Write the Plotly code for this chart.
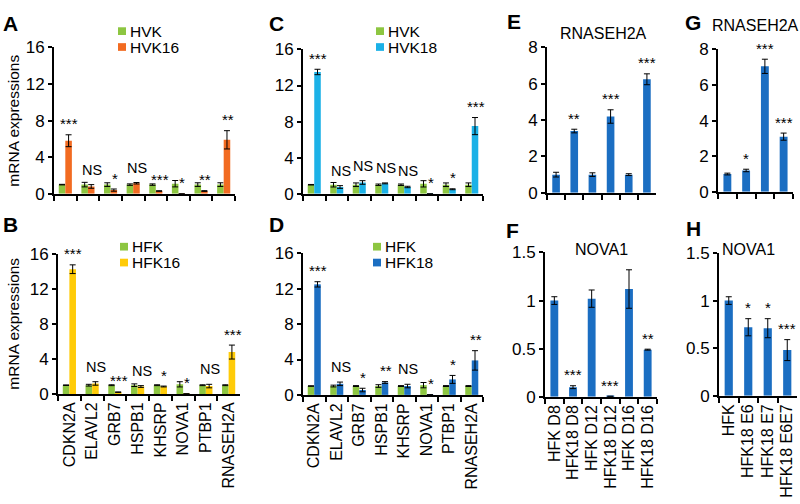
import plotly.graph_objects as go

# ---------------- data ----------------
genes = ["CDKN2A", "ELAVL2", "GRB7", "HSPB1", "KHSRP", "NOVA1", "PTBP1", "RNASEH2A"]

# Panel A: HVK vs HVK16
hvk_a = [1.0, 1.0, 1.0, 1.0, 1.0, 1.1, 1.0, 1.0]
hvk_a_err = [0.03, 0.25, 0.2, 0.08, 0.08, 0.35, 0.2, 0.2]
hvk16 = [5.8, 0.8, 0.4, 1.15, 0.3, 0.01, 0.3, 5.9]
hvk16_err = [0.65, 0.2, 0.12, 0.08, 0.03, 0.0, 0.04, 1.0]
sig_a = ["***", "NS", "*", "NS", "***", "*", "**", "**"]

# Panel C: HVK vs HVK18
hvk_c = [1.0, 1.0, 1.0, 1.0, 1.0, 1.1, 1.0, 1.0]
hvk_c_err = [0.03, 0.25, 0.2, 0.08, 0.08, 0.35, 0.2, 0.2]
hvk18 = [13.5, 0.75, 1.25, 1.15, 0.75, 0.01, 0.5, 7.5]
hvk18_err = [0.3, 0.15, 0.2, 0.05, 0.08, 0.0, 0.05, 0.95]
sig_c = ["***", "NS", "NS", "NS", "NS", "*", "*", "***"]

# Panel B: HFK vs HFK16
hfk_b = [1.0, 1.0, 1.0, 1.0, 1.0, 1.1, 1.0, 1.0]
hfk_b_err = [0.03, 0.1, 0.05, 0.15, 0.05, 0.3, 0.05, 0.05]
hfk16 = [14.3, 1.2, 0.2, 0.85, 0.85, 0.01, 0.9, 4.8]
hfk16_err = [0.5, 0.2, 0.03, 0.1, 0.05, 0.0, 0.2, 0.8]
sig_b = ["***", "NS", "***", "NS", "*", "*", "NS", "***"]

# Panel D: HFK vs HFK18
hfk_d = [1.0, 1.0, 1.0, 1.0, 1.0, 1.1, 1.0, 1.0]
hfk_d_err = [0.03, 0.1, 0.05, 0.15, 0.05, 0.3, 0.05, 0.05]
hfk18 = [12.5, 1.25, 0.55, 1.4, 1.0, 0.01, 1.75, 3.9]
hfk18_err = [0.3, 0.2, 0.2, 0.1, 0.2, 0.0, 0.45, 1.1]
sig_d = ["***", "NS", "*", "**", "NS", "*", "*", "**"]

# Panels E / F: time course
days = ["HFK D8", "HFK18 D8", "HFK D12", "HFK18 D12", "HFK D16", "HFK18 D16"]
rnaseh2a_days = [1.0, 3.4, 1.0, 4.2, 1.0, 6.25]
rnaseh2a_days_err = [0.13, 0.1, 0.1, 0.37, 0.05, 0.3]
sig_e = ["", "**", "", "***", "", "***"]
nova1_days = [1.0, 0.1, 1.02, 0.005, 1.12, 0.49]
nova1_days_err = [0.04, 0.015, 0.09, 0.0, 0.2, 0.005]
sig_f = ["", "***", "", "***", "", "**"]

# Panels G / H: oncogenes
oncogenes = ["HFK", "HFK18 E6", "HFK18 E7", "HFK18 E6E7"]
rnaseh2a_onc = [1.0, 1.2, 7.05, 3.1]
rnaseh2a_onc_err = [0.05, 0.07, 0.4, 0.2]
sig_g = ["", "*", "***", "***"]
nova1_onc = [1.0, 0.72, 0.71, 0.48]
nova1_onc_err = [0.04, 0.09, 0.1, 0.11]
sig_h = ["", "*", "*", "***"]

# ---------------- style ----------------
GREEN = "#8DC641"
ORANGE = "#F26B21"
LBLUE = "#1BB1E7"
YELLOW = "#FFCB08"
DBLUE = "#1B6EC2"
FONT = "Liberation Sans, Arial, sans-serif"
W, H = 800, 504


def px(x):
    return x / W


def py(y):
    return 1 - y / H


fig = go.Figure()
annotations = []
shapes = []


def add_axes(n, xdom, ydom, cats, yrange, tickvals, ticktext, show_xlabels):
    sx = "" if n == 1 else str(n)
    fig.layout["xaxis" + sx] = dict(
        domain=[px(xdom[0]), px(xdom[1])], anchor="y" + sx, type="category",
        categoryorder="array", categoryarray=cats,
        tickmode="linear", tick0=0, dtick=1,
        range=[-0.5, len(cats) - 0.5], showline=True, linecolor="black", linewidth=2,
        ticks="outside", tickson="boundaries", ticklen=5, tickwidth=2, tickcolor="black",
        showticklabels=show_xlabels, tickangle=-90,
        tickfont=dict(family=FONT, size=16, color="black"), showgrid=False, zeroline=False,
    )
    fig.layout["yaxis" + sx] = dict(
        domain=[py(ydom[1]), py(ydom[0])], anchor="x" + sx, range=yrange,
        showline=True, linecolor="black", linewidth=2, ticks="outside", ticklen=4,
        tickwidth=2, tickcolor="black", tickvals=tickvals, ticktext=ticktext,
        tickfont=dict(family=FONT, size=17, color="black"), showgrid=False, zeroline=False,
    )
    return "x" + sx, "y" + sx


def sig_ann(xa, ya, x, y, text, xshift=0):
    star = text.startswith("*")
    annotations.append(dict(
        x=x, y=y, xref=xa, yref=ya, text=text, showarrow=False,
        yanchor="middle", xshift=xshift, yshift=11 if star else 15,
        font=dict(family=FONT, size=15 if star else 14.5, color="black"),
    ))


def paired_panel(n, xdom, ydom, ctrl, ctrl_err, case, case_err, sig, color, show_xlabels):
    xa, ya = add_axes(n, xdom, ydom, genes, [0, 16], [0, 4, 8, 12, 16],
                      ["0", "4", "8", "12", "16"], show_xlabels)
    fig.add_trace(go.Bar(x=genes, y=ctrl, xaxis=xa, yaxis=ya, marker_color=GREEN,
                         offset=-0.29, width=0.29, marker_line_width=0,
                         error_y=dict(type="data", array=ctrl_err, color="black",
                                      thickness=1, width=3)))
    fig.add_trace(go.Bar(x=genes, y=case, xaxis=xa, yaxis=ya, marker_color=color,
                         offset=0.0, width=0.29, marker_line_width=0,
                         error_y=dict(type="data", array=case_err, color="black",
                                      thickness=1, width=3)))
    for g, v, e, s in zip(genes, case, case_err, sig):
        sig_ann(xa, ya, g, v + e, s, xshift=4)


def single_panel(n, xdom, ydom, cats, vals, errs, sig, yrange, tickvals, ticktext, show_xlabels):
    xa, ya = add_axes(n, xdom, ydom, cats, yrange, tickvals, ticktext, show_xlabels)
    fig.add_trace(go.Bar(x=cats, y=vals, xaxis=xa, yaxis=ya, marker_color=DBLUE,
                         width=0.42, marker_line_width=0,
                         error_y=dict(type="data", array=errs, color="black",
                                      thickness=1, width=3)))
    for c, v, e, s in zip(cats, vals, errs, sig):
        if s:
            sig_ann(xa, ya, c, v + e, s)


paired_panel(1, (54, 235), (40, 192), hvk_a, hvk_a_err, hvk16, hvk16_err, sig_a, ORANGE, False)
paired_panel(2, (58, 240), (255, 400), hfk_b, hfk_b_err, hfk16, hfk16_err, sig_b, YELLOW, True)
paired_panel(3, (303, 483), (42, 192), hvk_c, hvk_c_err, hvk18, hvk18_err, sig_c, LBLUE, False)
paired_panel(4, (303, 483), (254, 401), hfk_d, hfk_d_err, hfk18, hfk18_err, sig_d, DBLUE, True)

single_panel(5, (547, 656), (40, 191), days, rnaseh2a_days, rnaseh2a_days_err, sig_e,
             [0, 8], [0, 2, 4, 6, 8], ["0", "2", "4", "6", "8"], False)
single_panel(6, (545, 657), (253, 403), days, nova1_days, nova1_days_err, sig_f,
             [0, 1.5], [0, 0.5, 1, 1.5], ["0", "0.5", "1", "1.5"], True)
single_panel(7, (718, 793), (42, 190), oncogenes, rnaseh2a_onc, rnaseh2a_onc_err, sig_g,
             [0, 8], [0, 2, 4, 6, 8], ["0", "2", "4", "6", "8"], False)
single_panel(8, (719, 797), (253.5, 402), oncogenes, nova1_onc, nova1_onc_err, sig_h,
             [0, 1.5], [0, 0.5, 1, 1.5], ["0", "0.5", "1", "1.5"], True)


def paper_text(x, y, text, size, bold=False, angle=0, xanchor="center"):
    annotations.append(dict(
        x=px(x), y=py(y), xref="paper", yref="paper", text=f"<b>{text}</b>" if bold else text,
        showarrow=False, xanchor=xanchor, yanchor="middle", textangle=angle,
        font=dict(family=FONT, size=size, color="black"),
    ))


# panel letters
for letter, x, y in [("A", 10, 15), ("B", 10, 224), ("C", 276, 15), ("D", 276, 224),
                     ("E", 514, 13), ("F", 512, 230), ("G", 693, 14), ("H", 693, 228)]:
    paper_text(x, y, letter, 21, bold=True)

# panel titles
paper_text(603, 25, "RNASEH2A", 16)
paper_text(755, 17, "RNASEH2A", 16)
paper_text(601, 250, "NOVA1", 16)
paper_text(748, 250, "NOVA1", 16)

# y-axis titles
paper_text(14, 116, "mRNA expressions", 15.5, angle=-90)
paper_text(14, 327, "mRNA expressions", 15.5, angle=-90)

# legends
legends = [
    (118, 23, ["HVK", "HVK16"], [GREEN, ORANGE]),
    (376, 23, ["HVK", "HVK18"], [GREEN, LBLUE]),
    (120, 247, ["HFK", "HFK16"], [GREEN, YELLOW]),
    (373, 247, ["HFK", "HFK18"], [GREEN, DBLUE]),
]
for lx, ly, names, cols in legends:
    for i, (nm, col) in enumerate(zip(names, cols)):
        cy = ly + i * 16.5
        shapes.append(dict(type="rect", xref="paper", yref="paper",
                           x0=px(lx), x1=px(lx + 8), y0=py(cy + 4), y1=py(cy - 4),
                           fillcolor=col, line=dict(width=0)))
        paper_text(lx + 10, cy, nm, 15.5, xanchor="left")

fig.update_layout(
    width=W, height=H, margin=dict(l=0, r=0, t=0, b=0),
    paper_bgcolor="white", plot_bgcolor="white", showlegend=False,
    annotations=annotations, shapes=shapes,
    font=dict(family=FONT, color="black"),
)

fig.write_html("out.html", config={"displayModeBar": False},
               post_script="document.body.style.margin='0';")
